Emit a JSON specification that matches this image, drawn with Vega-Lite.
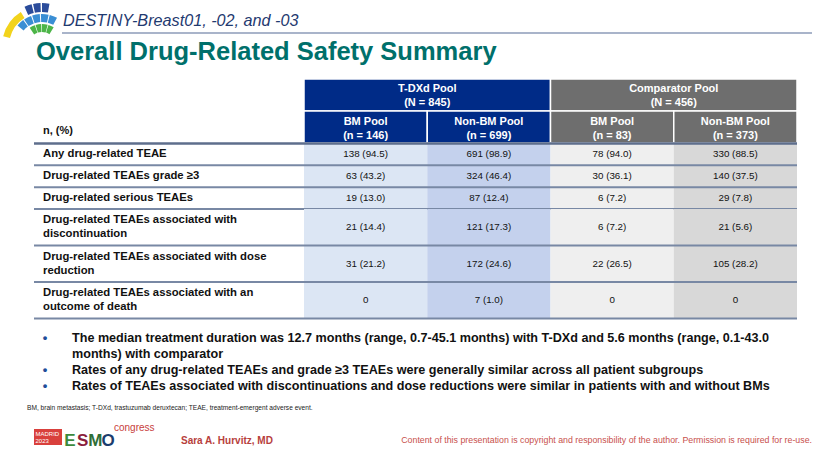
{
  "$schema": "https://vega.github.io/schema/vega-lite/v6.json",
  "width": 830,
  "height": 467,
  "autosize": {"type": "none"},
  "padding": 0,
  "background": "white",
  "config": {"view": {"stroke": null}, "font": "Liberation Sans", "text": {"font": "Liberation Sans"}},
  "datasets": {
    "logo": [
      {"ring": "yellow", "seq": 1, "kind": "gap", "deg": 14},
      {"ring": "yellow", "seq": 2, "kind": "yellow", "deg": 44},
      {"ring": "yellow", "seq": 3, "kind": "gap", "deg": 302},
      {"ring": "outer", "seq": 1, "kind": "gap", "deg": 66},
      {"ring": "outer", "seq": 2, "kind": "navy", "deg": 10},
      {"ring": "outer", "seq": 3, "kind": "gap", "deg": 2},
      {"ring": "outer", "seq": 4, "kind": "navy", "deg": 10},
      {"ring": "outer", "seq": 5, "kind": "gap", "deg": 2},
      {"ring": "outer", "seq": 6, "kind": "navy", "deg": 10},
      {"ring": "outer", "seq": 7, "kind": "gap", "deg": 260},
      {"ring": "middle", "seq": 1, "kind": "gap", "deg": 40},
      {"ring": "middle", "seq": 2, "kind": "blue", "deg": 14},
      {"ring": "middle", "seq": 3, "kind": "gap", "deg": 2},
      {"ring": "middle", "seq": 4, "kind": "blue", "deg": 14},
      {"ring": "middle", "seq": 5, "kind": "gap", "deg": 2},
      {"ring": "middle", "seq": 6, "kind": "blue", "deg": 14},
      {"ring": "middle", "seq": 7, "kind": "gap", "deg": 2},
      {"ring": "middle", "seq": 8, "kind": "blue", "deg": 14},
      {"ring": "middle", "seq": 9, "kind": "gap", "deg": 2},
      {"ring": "middle", "seq": 10, "kind": "blue", "deg": 14},
      {"ring": "middle", "seq": 11, "kind": "gap", "deg": 242},
      {"ring": "inner", "seq": 1, "kind": "gap", "deg": 56},
      {"ring": "inner", "seq": 2, "kind": "green", "deg": 15},
      {"ring": "inner", "seq": 3, "kind": "gap", "deg": 2},
      {"ring": "inner", "seq": 4, "kind": "green", "deg": 15},
      {"ring": "inner", "seq": 5, "kind": "gap", "deg": 2},
      {"ring": "inner", "seq": 6, "kind": "green", "deg": 15},
      {"ring": "inner", "seq": 7, "kind": "gap", "deg": 2},
      {"ring": "inner", "seq": 8, "kind": "green", "deg": 15},
      {"ring": "inner", "seq": 9, "kind": "gap", "deg": 238}
    ],
    "slide": [
      {"part": "kicker", "text": "DESTINY-Breast01, -02, and -03"},
      {"part": "title", "text": "Overall Drug-Related Safety Summary"},
      {"part": "stub", "text": "n, (%)"},
      {"part": "footnote", "text": "BM, brain metastasis; T-DXd, trastuzumab deruxtecan; TEAE, treatment-emergent adverse event."},
      {"part": "badge", "text": "MADRID\n2023"},
      {"part": "congress", "text": "congress"},
      {"part": "author", "text": "Sara A. Hurvitz, MD"},
      {"part": "copyright", "text": "Content of this presentation is copyright and responsibility of the author. Permission is required for re-use."}
    ],
    "esmo": [
      {"letter": "E"}, {"letter": "S"}, {"letter": "M"}, {"letter": "O"}
    ],
    "groups": [
      {"group": "T-DXd Pool", "label": "T-DXd Pool\n(N = 845)"},
      {"group": "Comparator Pool", "label": "Comparator Pool\n(N = 456)"}
    ],
    "subs": [
      {"col": "T-DXd BM", "group": "T-DXd Pool", "label": "BM Pool\n(n = 146)"},
      {"col": "T-DXd Non-BM", "group": "T-DXd Pool", "label": "Non-BM Pool\n(n = 699)"},
      {"col": "Comparator BM", "group": "Comparator Pool", "label": "BM Pool\n(n = 83)"},
      {"col": "Comparator Non-BM", "group": "Comparator Pool", "label": "Non-BM Pool\n(n = 373)"}
    ],
    "rows": [
      {"row": "Any drug-related TEAE", "label": "Any drug-related TEAE"},
      {"row": "Drug-related TEAEs grade ≥3", "label": "Drug-related TEAEs grade ≥3"},
      {"row": "Drug-related serious TEAEs", "label": "Drug-related serious TEAEs"},
      {"row": "Drug-related TEAEs associated with discontinuation", "label": "Drug-related TEAEs associated with\ndiscontinuation"},
      {"row": "Drug-related TEAEs associated with dose reduction", "label": "Drug-related TEAEs associated with dose\nreduction"},
      {"row": "Drug-related TEAEs associated with an outcome of death", "label": "Drug-related TEAEs associated with an\noutcome of death"}
    ],
    "cells": [
      {"row": "Any drug-related TEAE", "col": "T-DXd BM", "value": "138 (94.5)"},
      {"row": "Any drug-related TEAE", "col": "T-DXd Non-BM", "value": "691 (98.9)"},
      {"row": "Any drug-related TEAE", "col": "Comparator BM", "value": "78 (94.0)"},
      {"row": "Any drug-related TEAE", "col": "Comparator Non-BM", "value": "330 (88.5)"},
      {"row": "Drug-related TEAEs grade ≥3", "col": "T-DXd BM", "value": "63 (43.2)"},
      {"row": "Drug-related TEAEs grade ≥3", "col": "T-DXd Non-BM", "value": "324 (46.4)"},
      {"row": "Drug-related TEAEs grade ≥3", "col": "Comparator BM", "value": "30 (36.1)"},
      {"row": "Drug-related TEAEs grade ≥3", "col": "Comparator Non-BM", "value": "140 (37.5)"},
      {"row": "Drug-related serious TEAEs", "col": "T-DXd BM", "value": "19 (13.0)"},
      {"row": "Drug-related serious TEAEs", "col": "T-DXd Non-BM", "value": "87 (12.4)"},
      {"row": "Drug-related serious TEAEs", "col": "Comparator BM", "value": "6 (7.2)"},
      {"row": "Drug-related serious TEAEs", "col": "Comparator Non-BM", "value": "29 (7.8)"},
      {"row": "Drug-related TEAEs associated with discontinuation", "col": "T-DXd BM", "value": "21 (14.4)"},
      {"row": "Drug-related TEAEs associated with discontinuation", "col": "T-DXd Non-BM", "value": "121 (17.3)"},
      {"row": "Drug-related TEAEs associated with discontinuation", "col": "Comparator BM", "value": "6 (7.2)"},
      {"row": "Drug-related TEAEs associated with discontinuation", "col": "Comparator Non-BM", "value": "21 (5.6)"},
      {"row": "Drug-related TEAEs associated with dose reduction", "col": "T-DXd BM", "value": "31 (21.2)"},
      {"row": "Drug-related TEAEs associated with dose reduction", "col": "T-DXd Non-BM", "value": "172 (24.6)"},
      {"row": "Drug-related TEAEs associated with dose reduction", "col": "Comparator BM", "value": "22 (26.5)"},
      {"row": "Drug-related TEAEs associated with dose reduction", "col": "Comparator Non-BM", "value": "105 (28.2)"},
      {"row": "Drug-related TEAEs associated with an outcome of death", "col": "T-DXd BM", "value": "0"},
      {"row": "Drug-related TEAEs associated with an outcome of death", "col": "T-DXd Non-BM", "value": "7 (1.0)"},
      {"row": "Drug-related TEAEs associated with an outcome of death", "col": "Comparator BM", "value": "0"},
      {"row": "Drug-related TEAEs associated with an outcome of death", "col": "Comparator Non-BM", "value": "0"}
    ],
    "bullets": [
      {"line": 1, "bullet": true, "text": "The median treatment duration was 12.7 months (range, 0.7-45.1 months) with T-DXd and 5.6 months (range, 0.1-43.0"},
      {"line": 2, "bullet": false, "text": "months) with comparator"},
      {"line": 3, "bullet": true, "text": "Rates of any drug-related TEAEs and grade ≥3 TEAEs were generally similar across all patient subgroups"},
      {"line": 4, "bullet": true, "text": "Rates of TEAEs associated with discontinuations and dose reductions were similar in patients with and without BMs"}
    ]
  },
  "resolve": {"scale": {"x": "independent", "y": "independent", "color": "independent", "theta": "independent"}},
  "layer": [
    {
      "data": {"name": "logo"},
      "transform": [{"filter": "datum.ring === 'yellow'"}],
      "mark": {"type": "arc", "radius": 40, "radius2": 33},
      "encoding": {
        "theta": {"field": "deg", "type": "quantitative", "stack": true, "scale": {"domain": [0, 360], "range": [-1.5708, 4.7124]}},
        "order": {"field": "seq", "type": "quantitative"},
        "color": {"field": "kind", "type": "nominal", "legend": null, "scale": {"domain": ["gap", "yellow", "navy", "blue", "green"], "range": ["transparent", "#f2d31c", "#2b4c9b", "#3a8ed4", "#4cb548"]}},
        "x": {"value": 42}, "y": {"value": 46}
      }
    },
    {
      "data": {"name": "logo"},
      "transform": [{"filter": "datum.ring === 'outer'"}],
      "mark": {"type": "arc", "radius": 43, "radius2": 34},
      "encoding": {
        "theta": {"field": "deg", "type": "quantitative", "stack": true, "scale": {"domain": [0, 360], "range": [-1.5708, 4.7124]}},
        "order": {"field": "seq", "type": "quantitative"},
        "color": {"field": "kind", "type": "nominal", "legend": null, "scale": {"domain": ["gap", "yellow", "navy", "blue", "green"], "range": ["transparent", "#f2d31c", "#2b4c9b", "#3a8ed4", "#4cb548"]}},
        "x": {"value": 42}, "y": {"value": 46}
      }
    },
    {
      "data": {"name": "logo"},
      "transform": [{"filter": "datum.ring === 'middle'"}],
      "mark": {"type": "arc", "radius": 32, "radius2": 24},
      "encoding": {
        "theta": {"field": "deg", "type": "quantitative", "stack": true, "scale": {"domain": [0, 360], "range": [-1.5708, 4.7124]}},
        "order": {"field": "seq", "type": "quantitative"},
        "color": {"field": "kind", "type": "nominal", "legend": null, "scale": {"domain": ["gap", "yellow", "navy", "blue", "green"], "range": ["transparent", "#f2d31c", "#2b4c9b", "#3a8ed4", "#4cb548"]}},
        "x": {"value": 42}, "y": {"value": 46}
      }
    },
    {
      "data": {"name": "logo"},
      "transform": [{"filter": "datum.ring === 'inner'"}],
      "mark": {"type": "arc", "radius": 22, "radius2": 14},
      "encoding": {
        "theta": {"field": "deg", "type": "quantitative", "stack": true, "scale": {"domain": [0, 360], "range": [-1.5708, 4.7124]}},
        "order": {"field": "seq", "type": "quantitative"},
        "color": {"field": "kind", "type": "nominal", "legend": null, "scale": {"domain": ["gap", "yellow", "navy", "blue", "green"], "range": ["transparent", "#f2d31c", "#2b4c9b", "#3a8ed4", "#4cb548"]}},
        "x": {"value": 42}, "y": {"value": 46}
      }
    },
    {
      "data": {"name": "slide"},
      "transform": [{"filter": "datum.part === 'kicker'"}],
      "mark": {"type": "text", "align": "left", "baseline": "alphabetic", "fontStyle": "italic", "fontSize": 16.2, "color": "#1f3a70"},
      "encoding": {"x": {"value": 63}, "y": {"value": 26}, "text": {"field": "text"}}
    },
    {
      "data": {"name": "slide"},
      "transform": [{"filter": "datum.part === 'kicker'"}],
      "mark": {"type": "rule", "color": "#8d9bb8", "strokeWidth": 1.5},
      "encoding": {"x": {"value": 62}, "x2": {"value": 812}, "y": {"value": 33}}
    },
    {
      "data": {"name": "slide"},
      "transform": [{"filter": "datum.part === 'title'"}],
      "mark": {"type": "text", "align": "left", "baseline": "alphabetic", "fontWeight": "bold", "fontSize": 25.5, "color": "#00706b"},
      "encoding": {"x": {"value": 36}, "y": {"value": 60}, "text": {"field": "text"}}
    },
    {
      "resolve": {"scale": {"x": "independent", "color": "independent"}},
      "layer": [
        {
          "data": {"name": "groups"},
          "mark": {"type": "rect", "stroke": "white", "strokeWidth": 1.5},
          "encoding": {
            "x": {"field": "group", "type": "nominal", "axis": null, "scale": {"domain": ["T-DXd Pool", "Comparator Pool"], "range": [304, 797], "paddingInner": 0, "paddingOuter": 0}},
            "y": {"datum": "group", "type": "nominal", "axis": null, "scale": {"domain": ["group", "sub"], "range": [79, 143], "paddingInner": 0, "paddingOuter": 0}},
            "color": {"field": "group", "type": "nominal", "legend": null, "scale": {"domain": ["T-DXd Pool", "Comparator Pool"], "range": ["#002b87", "#6e6e6e"]}}
          }
        },
        {
          "data": {"name": "subs"},
          "mark": {"type": "rect", "stroke": "white", "strokeWidth": 1.5},
          "encoding": {
            "x": {"field": "col", "type": "nominal", "axis": null, "scale": {"domain": ["T-DXd BM", "T-DXd Non-BM", "Comparator BM", "Comparator Non-BM"], "range": [304, 797], "paddingInner": 0, "paddingOuter": 0}},
            "y": {"datum": "sub", "type": "nominal", "axis": null, "scale": {"domain": ["group", "sub"], "range": [79, 143], "paddingInner": 0, "paddingOuter": 0}},
            "color": {"field": "group", "type": "nominal", "legend": null, "scale": {"domain": ["T-DXd Pool", "Comparator Pool"], "range": ["#002b87", "#6e6e6e"]}}
          }
        },
        {
          "data": {"name": "groups"},
          "mark": {"type": "text", "color": "white", "fontWeight": "bold", "fontSize": 11, "lineBreak": "\n", "lineHeight": 13.5, "baseline": "middle", "align": "center", "dy": -6},
          "encoding": {
            "x": {"field": "group", "type": "nominal", "axis": null, "scale": {"domain": ["T-DXd Pool", "Comparator Pool"], "range": [304, 797], "paddingInner": 0, "paddingOuter": 0}},
            "y": {"datum": "group", "type": "nominal", "axis": null, "scale": {"domain": ["group", "sub"], "range": [79, 143], "paddingInner": 0, "paddingOuter": 0}},
            "text": {"field": "label"}
          }
        },
        {
          "data": {"name": "subs"},
          "mark": {"type": "text", "color": "white", "fontWeight": "bold", "fontSize": 11, "lineBreak": "\n", "lineHeight": 13.5, "baseline": "middle", "align": "center", "dy": -5},
          "encoding": {
            "x": {"field": "col", "type": "nominal", "axis": null, "scale": {"domain": ["T-DXd BM", "T-DXd Non-BM", "Comparator BM", "Comparator Non-BM"], "range": [304, 797], "paddingInner": 0, "paddingOuter": 0}},
            "y": {"datum": "sub", "type": "nominal", "axis": null, "scale": {"domain": ["group", "sub"], "range": [79, 143], "paddingInner": 0, "paddingOuter": 0}},
            "text": {"field": "label"}
          }
        },
        {
          "data": {"name": "slide"},
          "transform": [{"filter": "datum.part === 'stub'"}],
          "mark": {"type": "text", "align": "left", "baseline": "middle", "fontWeight": "bold", "fontSize": 11, "color": "#111111", "dy": 4},
          "encoding": {
            "x": {"value": 43},
            "y": {"datum": "sub", "type": "nominal", "axis": null, "scale": {"domain": ["group", "sub"], "range": [79, 143], "paddingInner": 0, "paddingOuter": 0}},
            "text": {"field": "text"}
          }
        }
      ]
    },
    {
      "resolve": {"scale": {"color": "independent"}},
      "layer": [
        {
          "data": {"name": "cells"},
          "transform": [{"filter": {"field": "row", "oneOf": ["Any drug-related TEAE", "Drug-related TEAEs grade ≥3", "Drug-related serious TEAEs"]}}],
          "mark": {"type": "rect"},
          "encoding": {
            "x": {"field": "col", "type": "nominal", "axis": null, "scale": {"domain": ["T-DXd BM", "T-DXd Non-BM", "Comparator BM", "Comparator Non-BM"], "range": [304, 797], "paddingInner": 0, "paddingOuter": 0}},
            "y": {"field": "row", "type": "nominal", "axis": null, "scale": {"domain": ["Any drug-related TEAE", "Drug-related TEAEs grade ≥3", "Drug-related serious TEAEs"], "range": [143.5, 209], "paddingInner": 0, "paddingOuter": 0}},
            "color": {"field": "col", "type": "nominal", "legend": null, "scale": {"domain": ["T-DXd BM", "T-DXd Non-BM", "Comparator BM", "Comparator Non-BM"], "range": ["#dce6f4", "#c4d1ed", "#efefef", "#d8d8d8"]}}
          }
        },
        {
          "data": {"name": "cells"},
          "transform": [{"filter": {"field": "row", "oneOf": ["Any drug-related TEAE", "Drug-related TEAEs grade ≥3", "Drug-related serious TEAEs"]}}],
          "mark": {"type": "text", "align": "center", "baseline": "middle", "fontSize": 9.8, "color": "#111111"},
          "encoding": {
            "x": {"field": "col", "type": "nominal", "axis": null, "scale": {"domain": ["T-DXd BM", "T-DXd Non-BM", "Comparator BM", "Comparator Non-BM"], "range": [304, 797], "paddingInner": 0, "paddingOuter": 0}},
            "y": {"field": "row", "type": "nominal", "axis": null, "scale": {"domain": ["Any drug-related TEAE", "Drug-related TEAEs grade ≥3", "Drug-related serious TEAEs"], "range": [143.5, 209], "paddingInner": 0, "paddingOuter": 0}},
            "text": {"field": "value"}
          }
        },
        {
          "data": {"name": "rows"},
          "transform": [{"filter": {"field": "row", "oneOf": ["Any drug-related TEAE", "Drug-related TEAEs grade ≥3", "Drug-related serious TEAEs"]}}],
          "mark": {"type": "text", "align": "left", "baseline": "middle", "fontSize": 11.3, "fontWeight": "bold", "color": "#111111"},
          "encoding": {
            "x": {"value": 43},
            "y": {"field": "row", "type": "nominal", "axis": null, "scale": {"domain": ["Any drug-related TEAE", "Drug-related TEAEs grade ≥3", "Drug-related serious TEAEs"], "range": [143.5, 209], "paddingInner": 0, "paddingOuter": 0}},
            "text": {"field": "label"}
          }
        },
        {
          "data": {"name": "rows"},
          "transform": [{"filter": {"field": "row", "oneOf": ["Any drug-related TEAE", "Drug-related TEAEs grade ≥3", "Drug-related serious TEAEs"]}}],
          "mark": {"type": "rule", "color": "#7888a4", "strokeWidth": 2},
          "encoding": {
            "x": {"value": 34}, "x2": {"value": 797},
            "y": {"field": "row", "type": "nominal", "axis": null, "bandPosition": 1, "scale": {"domain": ["Any drug-related TEAE", "Drug-related TEAEs grade ≥3", "Drug-related serious TEAEs"], "range": [143.5, 209], "paddingInner": 0, "paddingOuter": 0}}
          }
        },
        {
          "data": {"name": "rows"},
          "transform": [{"filter": {"field": "row", "equal": "Any drug-related TEAE"}}],
          "mark": {"type": "rule", "color": "#5e6e8c", "strokeWidth": 2.5},
          "encoding": {
            "x": {"value": 34}, "x2": {"value": 797},
            "y": {"field": "row", "type": "nominal", "axis": null, "bandPosition": 0, "scale": {"domain": ["Any drug-related TEAE", "Drug-related TEAEs grade ≥3", "Drug-related serious TEAEs"], "range": [143.5, 209], "paddingInner": 0, "paddingOuter": 0}}
          }
        }
      ]
    },
    {
      "resolve": {"scale": {"color": "independent"}},
      "layer": [
        {
          "data": {"name": "cells"},
          "transform": [{"filter": {"field": "row", "oneOf": ["Drug-related TEAEs associated with discontinuation", "Drug-related TEAEs associated with dose reduction", "Drug-related TEAEs associated with an outcome of death"]}}],
          "mark": {"type": "rect"},
          "encoding": {
            "x": {"field": "col", "type": "nominal", "axis": null, "scale": {"domain": ["T-DXd BM", "T-DXd Non-BM", "Comparator BM", "Comparator Non-BM"], "range": [304, 797], "paddingInner": 0, "paddingOuter": 0}},
            "y": {"field": "row", "type": "nominal", "axis": null, "scale": {"domain": ["Drug-related TEAEs associated with discontinuation", "Drug-related TEAEs associated with dose reduction", "Drug-related TEAEs associated with an outcome of death"], "range": [209, 318.5], "paddingInner": 0, "paddingOuter": 0}},
            "color": {"field": "col", "type": "nominal", "legend": null, "scale": {"domain": ["T-DXd BM", "T-DXd Non-BM", "Comparator BM", "Comparator Non-BM"], "range": ["#dce6f4", "#c4d1ed", "#efefef", "#d8d8d8"]}}
          }
        },
        {
          "data": {"name": "cells"},
          "transform": [{"filter": {"field": "row", "oneOf": ["Drug-related TEAEs associated with discontinuation", "Drug-related TEAEs associated with dose reduction", "Drug-related TEAEs associated with an outcome of death"]}}],
          "mark": {"type": "text", "align": "center", "baseline": "middle", "fontSize": 9.8, "color": "#111111"},
          "encoding": {
            "x": {"field": "col", "type": "nominal", "axis": null, "scale": {"domain": ["T-DXd BM", "T-DXd Non-BM", "Comparator BM", "Comparator Non-BM"], "range": [304, 797], "paddingInner": 0, "paddingOuter": 0}},
            "y": {"field": "row", "type": "nominal", "axis": null, "scale": {"domain": ["Drug-related TEAEs associated with discontinuation", "Drug-related TEAEs associated with dose reduction", "Drug-related TEAEs associated with an outcome of death"], "range": [209, 318.5], "paddingInner": 0, "paddingOuter": 0}},
            "text": {"field": "value"}
          }
        },
        {
          "data": {"name": "rows"},
          "transform": [{"filter": {"field": "row", "oneOf": ["Drug-related TEAEs associated with discontinuation", "Drug-related TEAEs associated with dose reduction", "Drug-related TEAEs associated with an outcome of death"]}}],
          "mark": {"type": "text", "align": "left", "baseline": "middle", "fontSize": 11.3, "fontWeight": "bold", "color": "#111111", "lineBreak": "\n", "lineHeight": 14, "dy": -7},
          "encoding": {
            "x": {"value": 43},
            "y": {"field": "row", "type": "nominal", "axis": null, "scale": {"domain": ["Drug-related TEAEs associated with discontinuation", "Drug-related TEAEs associated with dose reduction", "Drug-related TEAEs associated with an outcome of death"], "range": [209, 318.5], "paddingInner": 0, "paddingOuter": 0}},
            "text": {"field": "label"}
          }
        },
        {
          "data": {"name": "rows"},
          "transform": [{"filter": {"field": "row", "oneOf": ["Drug-related TEAEs associated with discontinuation", "Drug-related TEAEs associated with dose reduction", "Drug-related TEAEs associated with an outcome of death"]}}],
          "mark": {"type": "rule", "color": "#7888a4", "strokeWidth": 2},
          "encoding": {
            "x": {"value": 34}, "x2": {"value": 797},
            "y": {"field": "row", "type": "nominal", "axis": null, "bandPosition": 1, "scale": {"domain": ["Drug-related TEAEs associated with discontinuation", "Drug-related TEAEs associated with dose reduction", "Drug-related TEAEs associated with an outcome of death"], "range": [209, 318.5], "paddingInner": 0, "paddingOuter": 0}}
          }
        }
      ]
    },
    {
      "data": {"name": "bullets"},
      "mark": {"type": "text", "align": "left", "baseline": "middle", "fontWeight": "bold", "fontSize": 12.6, "color": "#111111"},
      "encoding": {
        "x": {"value": 72},
        "y": {"field": "line", "type": "ordinal", "axis": null, "scale": {"type": "point", "domain": [1, 2, 3, 4], "range": [338, 386], "padding": 0}},
        "text": {"field": "text"}
      }
    },
    {
      "data": {"name": "bullets"},
      "transform": [{"filter": "datum.bullet"}],
      "mark": {"type": "text", "align": "center", "baseline": "middle", "fontWeight": "bold", "fontSize": 13, "color": "#1f4e99", "text": "•"},
      "encoding": {
        "x": {"value": 45},
        "y": {"field": "line", "type": "ordinal", "axis": null, "scale": {"type": "point", "domain": [1, 2, 3, 4], "range": [338, 386], "padding": 0}}
      }
    },
    {
      "data": {"name": "slide"},
      "transform": [{"filter": "datum.part === 'footnote'"}],
      "mark": {"type": "text", "align": "left", "baseline": "middle", "fontSize": 6.6, "color": "#222222"},
      "encoding": {"x": {"value": 27}, "y": {"value": 408}, "text": {"field": "text"}}
    },
    {
      "data": {"name": "slide"},
      "transform": [{"filter": "datum.part === 'badge'"}],
      "mark": {"type": "rect", "color": "#d9403c"},
      "encoding": {"x": {"value": 34}, "x2": {"value": 62}, "y": {"value": 429}, "y2": {"value": 445}}
    },
    {
      "data": {"name": "slide"},
      "transform": [{"filter": "datum.part === 'badge'"}],
      "mark": {"type": "text", "align": "left", "baseline": "middle", "fontSize": 6, "color": "white", "lineBreak": "\n", "lineHeight": 7, "dy": -3.5},
      "encoding": {"x": {"value": 35.5}, "y": {"value": 437}, "text": {"field": "text"}}
    },
    {
      "data": {"name": "esmo"},
      "mark": {"type": "text", "align": "center", "baseline": "alphabetic", "fontSize": 17, "fontWeight": "bold"},
      "encoding": {
        "x": {"field": "letter", "type": "nominal", "axis": null, "sort": null, "scale": {"domain": ["E", "S", "M", "O"], "range": [63.5, 114.5], "paddingInner": 0, "paddingOuter": 0}},
        "y": {"value": 446},
        "text": {"field": "letter"},
        "color": {"field": "letter", "type": "nominal", "legend": null, "scale": {"domain": ["E", "S", "M", "O"], "range": ["#3c8a3c", "#8b1d3c", "#2f6e36", "#1b3d6e"]}}
      }
    },
    {
      "data": {"name": "slide"},
      "transform": [{"filter": "datum.part === 'congress'"}],
      "mark": {"type": "text", "align": "left", "baseline": "alphabetic", "fontSize": 10, "color": "#c8403c"},
      "encoding": {"x": {"value": 114}, "y": {"value": 431}, "text": {"field": "text"}}
    },
    {
      "data": {"name": "slide"},
      "transform": [{"filter": "datum.part === 'author'"}],
      "mark": {"type": "text", "align": "left", "baseline": "middle", "fontSize": 10, "fontWeight": "bold", "color": "#b7403c"},
      "encoding": {"x": {"value": 181}, "y": {"value": 441}, "text": {"field": "text"}}
    },
    {
      "data": {"name": "slide"},
      "transform": [{"filter": "datum.part === 'copyright'"}],
      "mark": {"type": "text", "align": "right", "baseline": "middle", "fontSize": 8.8, "color": "#c8504c"},
      "encoding": {"x": {"value": 812}, "y": {"value": 440}, "text": {"field": "text"}}
    }
  ]
}
